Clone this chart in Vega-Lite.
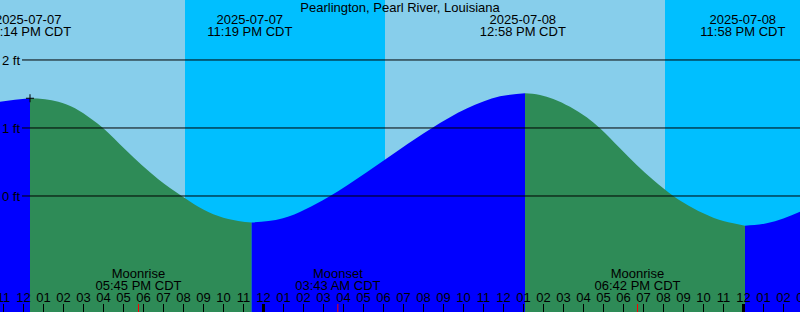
{
  "$schema": "https://vega.github.io/schema/vega-lite/v6.json",
  "width": 800,
  "height": 312,
  "autosize": "none",
  "padding": 0,
  "config": {
    "view": {"stroke": null},
    "text": {"font": "Liberation Sans", "fontSize": 13, "color": "#000000"}
  },
  "datasets": {
    "bands": [
      {"t": 10.825, "t2": 20.075, "phase": "day"},
      {"t": 20.075, "t2": 30.075, "phase": "night"},
      {"t": 30.075, "t2": 44.075, "phase": "day"},
      {"t": 44.075, "t2": 50.825, "phase": "night"}
    ],
    "curve": [
      {"t": 10.825, "ft": 1.387, "seg": "a", "dir": "rising"},
      {"t": 11.575, "ft": 1.415, "seg": "a", "dir": "rising"},
      {"t": 12.325, "ft": 1.437, "seg": "a", "dir": "rising"},
      {"t": 12.325, "ft": 1.437, "seg": "b", "dir": "falling"},
      {"t": 13.075, "ft": 1.422, "seg": "b", "dir": "falling"},
      {"t": 13.74, "ft": 1.387, "seg": "b", "dir": "falling"},
      {"t": 14.575, "ft": 1.29, "seg": "b", "dir": "falling"},
      {"t": 15.41, "ft": 1.128, "seg": "b", "dir": "falling"},
      {"t": 15.99, "ft": 0.996, "seg": "b", "dir": "falling"},
      {"t": 17.075, "ft": 0.686, "seg": "b", "dir": "falling"},
      {"t": 17.91, "ft": 0.456, "seg": "b", "dir": "falling"},
      {"t": 18.74, "ft": 0.246, "seg": "b", "dir": "falling"},
      {"t": 19.91, "ft": 0.0, "seg": "b", "dir": "falling"},
      {"t": 20.74, "ft": -0.157, "seg": "b", "dir": "falling"},
      {"t": 21.74, "ft": -0.294, "seg": "b", "dir": "falling"},
      {"t": 22.74, "ft": -0.368, "seg": "b", "dir": "falling"},
      {"t": 23.41, "ft": -0.39, "seg": "b", "dir": "falling"},
      {"t": 23.41, "ft": -0.39, "seg": "c", "dir": "rising"},
      {"t": 24.975, "ft": -0.328, "seg": "c", "dir": "rising"},
      {"t": 27.225, "ft": -0.02, "seg": "c", "dir": "rising"},
      {"t": 29.16, "ft": 0.348, "seg": "c", "dir": "rising"},
      {"t": 30.825, "ft": 0.687, "seg": "c", "dir": "rising"},
      {"t": 32.41, "ft": 0.996, "seg": "c", "dir": "rising"},
      {"t": 34.16, "ft": 1.285, "seg": "c", "dir": "rising"},
      {"t": 35.825, "ft": 1.465, "seg": "c", "dir": "rising"},
      {"t": 37.075, "ft": 1.51, "seg": "c", "dir": "rising"},
      {"t": 37.075, "ft": 1.51, "seg": "d", "dir": "falling"},
      {"t": 37.825, "ft": 1.485, "seg": "d", "dir": "falling"},
      {"t": 38.49, "ft": 1.428, "seg": "d", "dir": "falling"},
      {"t": 39.325, "ft": 1.312, "seg": "d", "dir": "falling"},
      {"t": 40.16, "ft": 1.156, "seg": "d", "dir": "falling"},
      {"t": 40.825, "ft": 0.996, "seg": "d", "dir": "falling"},
      {"t": 41.825, "ft": 0.701, "seg": "d", "dir": "falling"},
      {"t": 42.66, "ft": 0.456, "seg": "d", "dir": "falling"},
      {"t": 43.49, "ft": 0.235, "seg": "d", "dir": "falling"},
      {"t": 44.49, "ft": 0.0, "seg": "d", "dir": "falling"},
      {"t": 45.49, "ft": -0.181, "seg": "d", "dir": "falling"},
      {"t": 46.49, "ft": -0.319, "seg": "d", "dir": "falling"},
      {"t": 47.49, "ft": -0.402, "seg": "d", "dir": "falling"},
      {"t": 48.075, "ft": -0.437, "seg": "d", "dir": "falling"},
      {"t": 48.075, "ft": -0.437, "seg": "e", "dir": "rising"},
      {"t": 49.16, "ft": -0.402, "seg": "e", "dir": "rising"},
      {"t": 50.825, "ft": -0.231, "seg": "e", "dir": "rising"}
    ],
    "levels": [
      {"ft": 2, "label": "2 ft"},
      {"ft": 1, "label": "1 ft"},
      {"ft": 0, "label": "0 ft"}
    ],
    "hours": [
      {"t": 11, "label": "11"}, {"t": 12, "label": "12"}, {"t": 13, "label": "01"}, {"t": 14, "label": "02"},
      {"t": 15, "label": "03"}, {"t": 16, "label": "04"}, {"t": 17, "label": "05"}, {"t": 18, "label": "06"},
      {"t": 19, "label": "07"}, {"t": 20, "label": "08"}, {"t": 21, "label": "09"}, {"t": 22, "label": "10"},
      {"t": 23, "label": "11"}, {"t": 24, "label": "12"}, {"t": 25, "label": "01"}, {"t": 26, "label": "02"},
      {"t": 27, "label": "03"}, {"t": 28, "label": "04"}, {"t": 29, "label": "05"}, {"t": 30, "label": "06"},
      {"t": 31, "label": "07"}, {"t": 32, "label": "08"}, {"t": 33, "label": "09"}, {"t": 34, "label": "10"},
      {"t": 35, "label": "11"}, {"t": 36, "label": "12"}, {"t": 37, "label": "01"}, {"t": 38, "label": "02"},
      {"t": 39, "label": "03"}, {"t": 40, "label": "04"}, {"t": 41, "label": "05"}, {"t": 42, "label": "06"},
      {"t": 43, "label": "07"}, {"t": 44, "label": "08"}, {"t": 45, "label": "09"}, {"t": 46, "label": "10"},
      {"t": 47, "label": "11"}, {"t": 48, "label": "12"}, {"t": 49, "label": "01"}, {"t": 50, "label": "02"},
      {"t": 51, "label": "03"}
    ],
    "tides": [
      {"t": 12.233, "date": "2025-07-07", "time": "12:14 PM CDT"},
      {"t": 23.317, "date": "2025-07-07", "time": "11:19 PM CDT"},
      {"t": 36.967, "date": "2025-07-08", "time": "12:58 PM CDT"},
      {"t": 47.967, "date": "2025-07-08", "time": "11:58 PM CDT"}
    ],
    "moon": [
      {"t": 17.75, "event": "Moonrise", "time": "05:45 PM CDT"},
      {"t": 27.717, "event": "Moonset", "time": "03:43 AM CDT"},
      {"t": 42.7, "event": "Moonrise", "time": "06:42 PM CDT"}
    ],
    "marker": [{"t": 12.325, "ft": 1.437}],
    "title": [{"label": "Pearlington, Pearl River, Louisiana"}]
  },
  "layer": [
    {
      "data": {"name": "bands"},
      "mark": {"type": "rect"},
      "encoding": {
        "x": {
          "field": "t", "type": "quantitative", "axis": null,
          "scale": {"domain": [10.825, 50.825], "nice": false, "zero": false}
        },
        "x2": {"field": "t2"},
        "color": {
          "field": "phase", "type": "nominal", "legend": null,
          "scale": {"domain": ["day", "night", "rising", "falling"], "range": ["#87CEEB", "#00BFFF", "#0000FF", "#2E8B57"]}
        }
      }
    },
    {
      "data": {"name": "curve"},
      "mark": {"type": "area", "interpolate": "monotone", "clip": true},
      "encoding": {
        "x": {"field": "t", "type": "quantitative", "axis": null},
        "y": {
          "field": "ft", "type": "quantitative", "stack": null, "axis": null,
          "scale": {"domain": [-1.706, 2.882], "nice": false, "zero": false}
        },
        "y2": {"datum": -1.706},
        "detail": {"field": "seg", "type": "nominal"},
        "color": {"field": "dir", "type": "nominal", "legend": null}
      }
    },
    {
      "data": {"name": "levels"},
      "mark": {"type": "rule", "color": "#000000", "strokeWidth": 1},
      "encoding": {
        "x": {"datum": 11.925, "type": "quantitative", "axis": null},
        "x2": {"datum": 50.825},
        "y": {"field": "ft", "type": "quantitative", "axis": null}
      }
    },
    {
      "data": {"name": "levels"},
      "mark": {"type": "text", "align": "right", "baseline": "middle", "dy": 1},
      "encoding": {
        "x": {"datum": 11.825, "type": "quantitative", "axis": null},
        "y": {"field": "ft", "type": "quantitative", "axis": null},
        "text": {"field": "label"}
      }
    },
    {
      "data": {"name": "hours"},
      "mark": {"type": "rule", "color": "#000000", "strokeWidth": 1},
      "encoding": {
        "x": {"field": "t", "type": "quantitative", "axis": null},
        "y": {"datum": -1.588, "type": "quantitative", "axis": null},
        "y2": {"datum": -1.706}
      }
    },
    {
      "data": {"name": "hours"},
      "transform": [{"filter": "datum.t % 24 === 0"}],
      "mark": {"type": "rule", "color": "#000000", "strokeWidth": 3},
      "encoding": {
        "x": {"field": "t", "type": "quantitative", "axis": null},
        "y": {"datum": -1.588, "type": "quantitative", "axis": null},
        "y2": {"datum": -1.706}
      }
    },
    {
      "data": {"name": "hours"},
      "mark": {"type": "text", "align": "center", "baseline": "alphabetic"},
      "encoding": {
        "x": {"field": "t", "type": "quantitative", "axis": null},
        "y": {"datum": -1.559, "type": "quantitative", "axis": null},
        "text": {"field": "label"}
      }
    },
    {
      "data": {"name": "moon"},
      "mark": {"type": "rule", "color": "#FF0000", "strokeWidth": 1},
      "encoding": {
        "x": {"field": "t", "type": "quantitative", "axis": null},
        "y": {"datum": -1.588, "type": "quantitative", "axis": null},
        "y2": {"datum": -1.706}
      }
    },
    {
      "data": {"name": "moon"},
      "mark": {"type": "text", "align": "center", "baseline": "alphabetic"},
      "encoding": {
        "x": {"field": "t", "type": "quantitative", "axis": null},
        "y": {"datum": -1.213, "type": "quantitative", "axis": null},
        "text": {"field": "event"}
      }
    },
    {
      "data": {"name": "moon"},
      "mark": {"type": "text", "align": "center", "baseline": "alphabetic"},
      "encoding": {
        "x": {"field": "t", "type": "quantitative", "axis": null},
        "y": {"datum": -1.382, "type": "quantitative", "axis": null},
        "text": {"field": "time"}
      }
    },
    {
      "data": {"name": "tides"},
      "mark": {"type": "text", "align": "center", "baseline": "alphabetic"},
      "encoding": {
        "x": {"field": "t", "type": "quantitative", "axis": null},
        "y": {"datum": 2.529, "type": "quantitative", "axis": null},
        "text": {"field": "date"}
      }
    },
    {
      "data": {"name": "tides"},
      "mark": {"type": "text", "align": "center", "baseline": "alphabetic"},
      "encoding": {
        "x": {"field": "t", "type": "quantitative", "axis": null},
        "y": {"datum": 2.353, "type": "quantitative", "axis": null},
        "text": {"field": "time"}
      }
    },
    {
      "data": {"name": "title"},
      "mark": {"type": "text", "align": "center", "baseline": "alphabetic"},
      "encoding": {
        "x": {"datum": 30.825, "type": "quantitative", "axis": null},
        "y": {"datum": 2.71, "type": "quantitative", "axis": null},
        "text": {"field": "label"}
      }
    },
    {
      "data": {"name": "marker"},
      "mark": {"type": "point", "shape": "M-1,0L1,0M0,-1L0,1", "filled": false, "stroke": "#000000", "strokeWidth": 1, "size": 64, "opacity": 1},
      "encoding": {
        "x": {"field": "t", "type": "quantitative", "axis": null},
        "y": {"field": "ft", "type": "quantitative", "axis": null}
      }
    }
  ]
}
